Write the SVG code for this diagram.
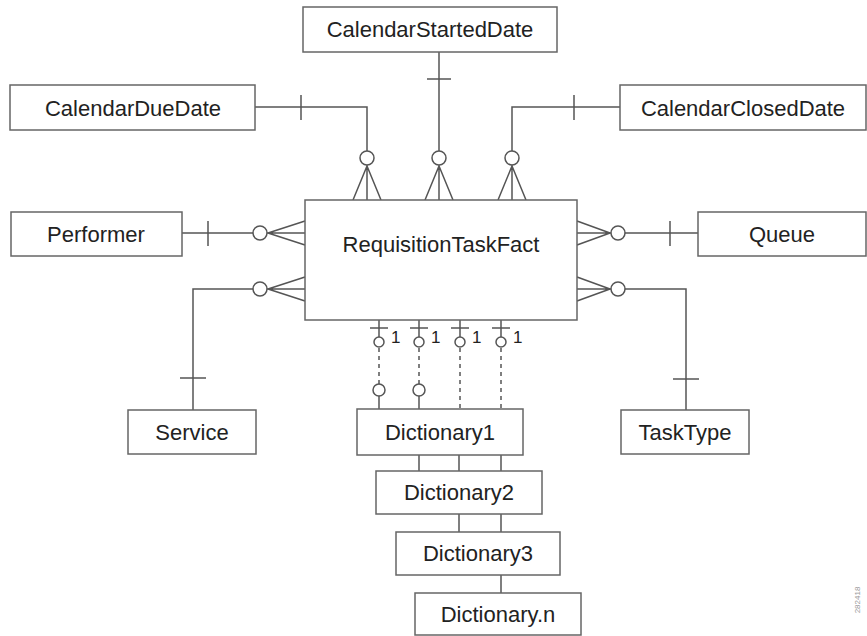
<svg xmlns="http://www.w3.org/2000/svg" width="867" height="636" viewBox="0 0 867 636">
<style>
.box{fill:#fff;stroke:#666;stroke-width:1.5}
.lbl{font-family:"Liberation Sans",Arial,sans-serif;font-size:22px;fill:#222;text-anchor:middle}
.one{font-family:"Liberation Sans",Arial,sans-serif;font-size:17px;fill:#222}
.ln{fill:none;stroke:#555;stroke-width:1.5}
.dash{fill:none;stroke:#555;stroke-width:1.5;stroke-dasharray:4 4}
.c{fill:#fff;stroke:#555;stroke-width:1.5}
</style>
<rect width="867" height="636" fill="#fff"/>
<g id="connectors">
  <!-- top -->
  <path class="ln" d="M255,107 H367 V151 M301,95 V120"/>
  <circle class="c" cx="367" cy="158" r="7"/>
  <path class="ln" d="M367,165 V200 M367,166 L353,200 M367,166 L381,200"/>
  <path class="ln" d="M439,52 V151 M427,79 H451"/>
  <circle class="c" cx="439" cy="158" r="7"/>
  <path class="ln" d="M439,165 V200 M439,166 L425,200 M439,166 L453,200"/>
  <path class="ln" d="M620,107 H512 V151 M574,95 V120"/>
  <circle class="c" cx="512" cy="158" r="7"/>
  <path class="ln" d="M512,165 V200 M512,166 L498,200 M512,166 L526,200"/>
  <!-- left -->
  <path class="ln" d="M182,233 H253 M208,221 V246"/>
  <circle class="c" cx="260" cy="233" r="7"/>
  <path class="ln" d="M267,233 H305 M268,233 L305,221 M268,233 L305,245"/>
  <path class="ln" d="M253,289 H193 V410 M180,378 H206"/>
  <circle class="c" cx="260" cy="289" r="7"/>
  <path class="ln" d="M267,289 H305 M268,289 L305,277 M268,289 L305,301"/>
  <!-- right -->
  <path class="ln" d="M625,233 H698 M670,221 V246"/>
  <circle class="c" cx="618" cy="233" r="7"/>
  <path class="ln" d="M611,233 H577 M610,233 L577,221 M610,233 L577,245"/>
  <path class="ln" d="M625,289 H686 V410 M673,379 H699"/>
  <circle class="c" cx="618" cy="289" r="7"/>
  <path class="ln" d="M611,289 H577 M610,289 L577,277 M610,289 L577,301"/>
  <!-- bottom to dictionary1 -->
  <path class="ln" d="M379,320 V337 M370,328 H388"/>
  <circle class="c" cx="379" cy="342" r="5"/>
  <path class="dash" d="M379,348 V384"/>
  <circle class="c" cx="379" cy="390" r="6"/>
  <path class="ln" d="M379,396 V409"/>
  <path class="ln" d="M419,320 V337 M410,328 H428"/>
  <circle class="c" cx="419" cy="342" r="5"/>
  <path class="dash" d="M419,348 V384"/>
  <circle class="c" cx="419" cy="390" r="6"/>
  <path class="ln" d="M419,396 V409"/>
  <path class="ln" d="M460,320 V337 M451,328 H469"/>
  <circle class="c" cx="460" cy="342" r="5"/>
  <path class="dash" d="M460,348 V409"/>
  <path class="ln" d="M501,320 V337 M492,328 H510"/>
  <circle class="c" cx="501" cy="342" r="5"/>
  <path class="dash" d="M501,348 V409"/>
  <text class="one" x="391" y="343">1</text>
  <text class="one" x="431" y="343">1</text>
  <text class="one" x="472" y="343">1</text>
  <text class="one" x="513" y="343">1</text>
  <!-- dictionary chain -->
  <path class="ln" d="M419,455 V471 M459,455 V471 M501,455 V471 M459,514 V532 M501,514 V532 M501,575 V593"/>
</g>
<g id="CalendarStartedDate"><rect class="box" x="303" y="7" width="254" height="45"/><text class="lbl" x="430" y="37">CalendarStartedDate</text></g>
<g id="CalendarDueDate"><rect class="box" x="10" y="85" width="245" height="45"/><text class="lbl" x="133" y="116">CalendarDueDate</text></g>
<g id="CalendarClosedDate"><rect class="box" x="620" y="85" width="246" height="45"/><text class="lbl" x="743" y="116">CalendarClosedDate</text></g>
<g id="Performer"><rect class="box" x="11" y="212" width="171" height="44"/><text class="lbl" x="96" y="242">Performer</text></g>
<g id="Queue"><rect class="box" x="698" y="212" width="168" height="44"/><text class="lbl" x="782" y="242">Queue</text></g>
<g id="RequisitionTaskFact"><rect class="box" x="305" y="200" width="272" height="120"/><text class="lbl" x="441" y="252">RequisitionTaskFact</text></g>
<g id="Service"><rect class="box" x="128" y="410" width="128" height="44"/><text class="lbl" x="192" y="440">Service</text></g>
<g id="TaskType"><rect class="box" x="621" y="410" width="128" height="44"/><text class="lbl" x="685" y="440">TaskType</text></g>
<g id="Dictionary1"><rect class="box" x="357" y="409" width="166" height="46"/><text class="lbl" x="440" y="440">Dictionary1</text></g>
<g id="Dictionary2"><rect class="box" x="376" y="471" width="166" height="43"/><text class="lbl" x="459" y="500">Dictionary2</text></g>
<g id="Dictionary3"><rect class="box" x="396" y="532" width="164" height="43"/><text class="lbl" x="478" y="561">Dictionary3</text></g>
<g id="Dictionaryn"><rect class="box" x="415" y="593" width="166" height="42"/><text class="lbl" x="498" y="622">Dictionary.n</text></g>
<text x="860" y="600" transform="rotate(-90 860 600)" style="font-family:'Liberation Sans',Arial,sans-serif;font-size:8px;fill:#999;text-anchor:middle">282418</text>
</svg>
